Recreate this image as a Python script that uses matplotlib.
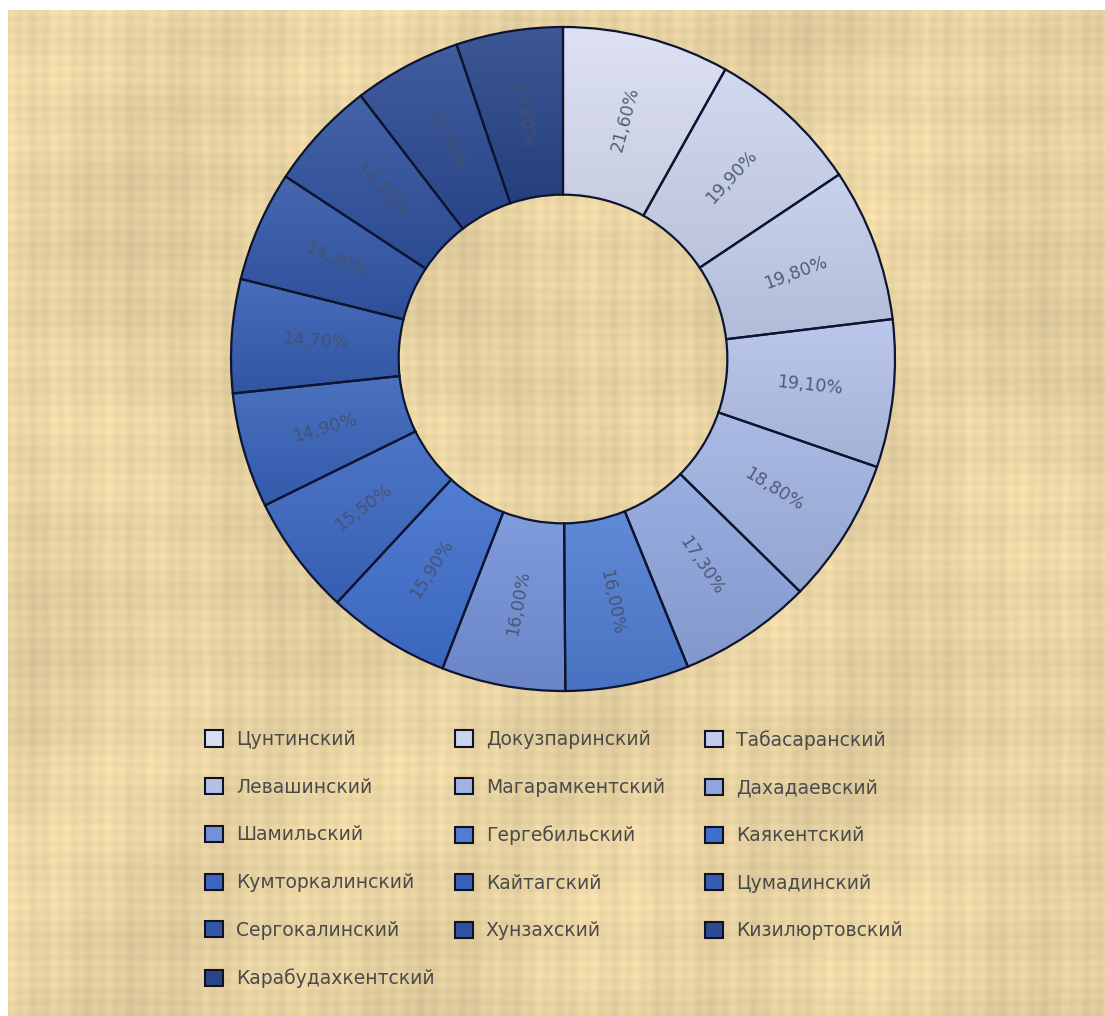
import numpy as np
import matplotlib
matplotlib.use("Agg")
import matplotlib.pyplot as plt
from matplotlib.patches import Patch
from matplotlib.colors import to_rgb

# ---------------- data ----------------
categories = ["Цунтинский", "Докузпаринский", "Табасаранский", "Левашинский",
              "Магарамкентский", "Дахадаевский", "Шамильский", "Гергебильский",
              "Каякентский", "Кумторкалинский", "Кайтагский", "Цумадинский",
              "Сергокалинский", "Хунзахский", "Кизилюртовский", "Карабудахкентский"]
values = [21.6, 19.9, 19.8, 19.1, 18.8, 17.3, 16.0, 16.0,
          15.9, 15.5, 14.9, 14.7, 14.3, 14.1, 13.9, 13.8]
colors = ["#d9def2", "#ccd5ef", "#c2cdec", "#b3c1e8", "#a1b3e2", "#8ea5dd",
          "#7391d8", "#4f7dd2", "#3f6fcd", "#3b67c2", "#3862ba", "#355db2",
          "#3257a8", "#2f519e", "#2c4b94", "#28458a"]
# order in which the slices appear clockwise from 12 o'clock
pie_order = [0, 1, 2, 3, 4, 5, 7, 6, 8, 9, 10, 11, 12, 13, 14, 15]

W, H = 1105, 1016
fig = plt.figure(figsize=(W / 100, H / 100), dpi=100, facecolor="white")

# ---------------- parchment background ----------------
bg = fig.add_axes([8 / W, 0, 1 - 8 / W, 1 - 10 / H], zorder=-10)
bg.set_axis_off()
xx, yy = np.meshgrid(np.arange(W), np.arange(H))
v = (0.018 * np.sin(xx * 0.45 + 0.3 * np.sin(yy / 40.0))
     + 0.015 * np.sin(xx * 0.13 + 1.0)
     + 0.014 * np.sin(yy * 0.55 + 0.4 * np.sin(xx / 55.0))
     + 0.012 * np.sin(yy * 0.09 + 2.0)
     + 0.020 * np.sin(xx / 47.0 + 2.0 * np.sin(yy / 130.0))
     + 0.015 * np.sin(yy / 61.0 + 1.5 * np.sin(xx / 170.0)))
base = np.array([231, 210, 162]) / 255.0
tex = np.clip(base[None, None, :] * (1 + v[..., None]), 0, 1)
bg.imshow(tex, aspect="auto", extent=[0, 1, 0, 1], interpolation="bilinear")
bg.set_xlim(0, 1)
bg.set_ylim(0, 1)

# ---------------- donut ----------------
cx, cy, R = 563, 359, 332
L = 360
ax = fig.add_axes([(cx - L) / W, 1 - (cy + L) / H, 2 * L / W, 2 * L / H])
ax.set_axis_off()
lim = L / R

pv = [values[i] for i in pie_order]
pc = [colors[i] for i in pie_order]
width = 0.505
wedges, _ = ax.pie(pv, colors=pc, startangle=90, counterclock=False, radius=1.0,
                   wedgeprops=dict(width=width, edgecolor="#0d1530", linewidth=1.6))

total = sum(pv)
for w, c in zip(wedges, pc):
    w.set_zorder(3)
    w.set_facecolor("none")
    ext = w.get_path().get_extents()
    rgb = np.array(to_rgb(c))
    top = rgb + (1 - rgb) * 0.10
    bot = rgb * 0.92
    t = np.linspace(0, 1, 64)[:, None]
    grad = top[None, :] * (1 - t) + bot[None, :] * t
    img = np.repeat(grad[:, None, :], 4, axis=1)
    im = ax.imshow(img, extent=[ext.x0, ext.x1, ext.y0, ext.y1], aspect="auto",
                   zorder=2, interpolation="bilinear")
    im.set_clip_path(w)

ax.set_xlim(-lim, lim)
ax.set_ylim(-lim, lim)

rmid = 1 - width / 2
cum = 0.0
for val in pv:
    mid = (cum + val / 2) / total * 360.0
    ang = 90.0 - mid
    x = rmid * np.cos(np.radians(ang))
    y = rmid * np.sin(np.radians(ang))
    rot = ang
    while rot > 90:
        rot -= 180
    while rot <= -90:
        rot += 180
    ax.text(x, y, f"{val:.2f}%".replace(".", ","), rotation=rot,
            rotation_mode="anchor", ha="center", va="center",
            fontsize=12.5, color="#46516c", alpha=0.9, zorder=5)
    cum += val

# ---------------- legend (three columns, row-major) ----------------
handles = [Patch(facecolor=c, edgecolor="#111122", linewidth=1.5) for c in colors]
col_x = [205, 455, 705]
for j in range(3):
    idx = list(range(j, len(categories), 3))
    fig.legend([handles[i] for i in idx], [categories[i] for i in idx],
               loc="upper left", bbox_to_anchor=(col_x[j] / W, 1 - 730 / H),
               frameon=False, fontsize=13.5, labelcolor="#4a4a4a",
               handlelength=0.95, handleheight=0.95, handletextpad=0.7,
               labelspacing=1.53, borderaxespad=0, borderpad=0)

fig.savefig("out.png", dpi=100, facecolor="white")
